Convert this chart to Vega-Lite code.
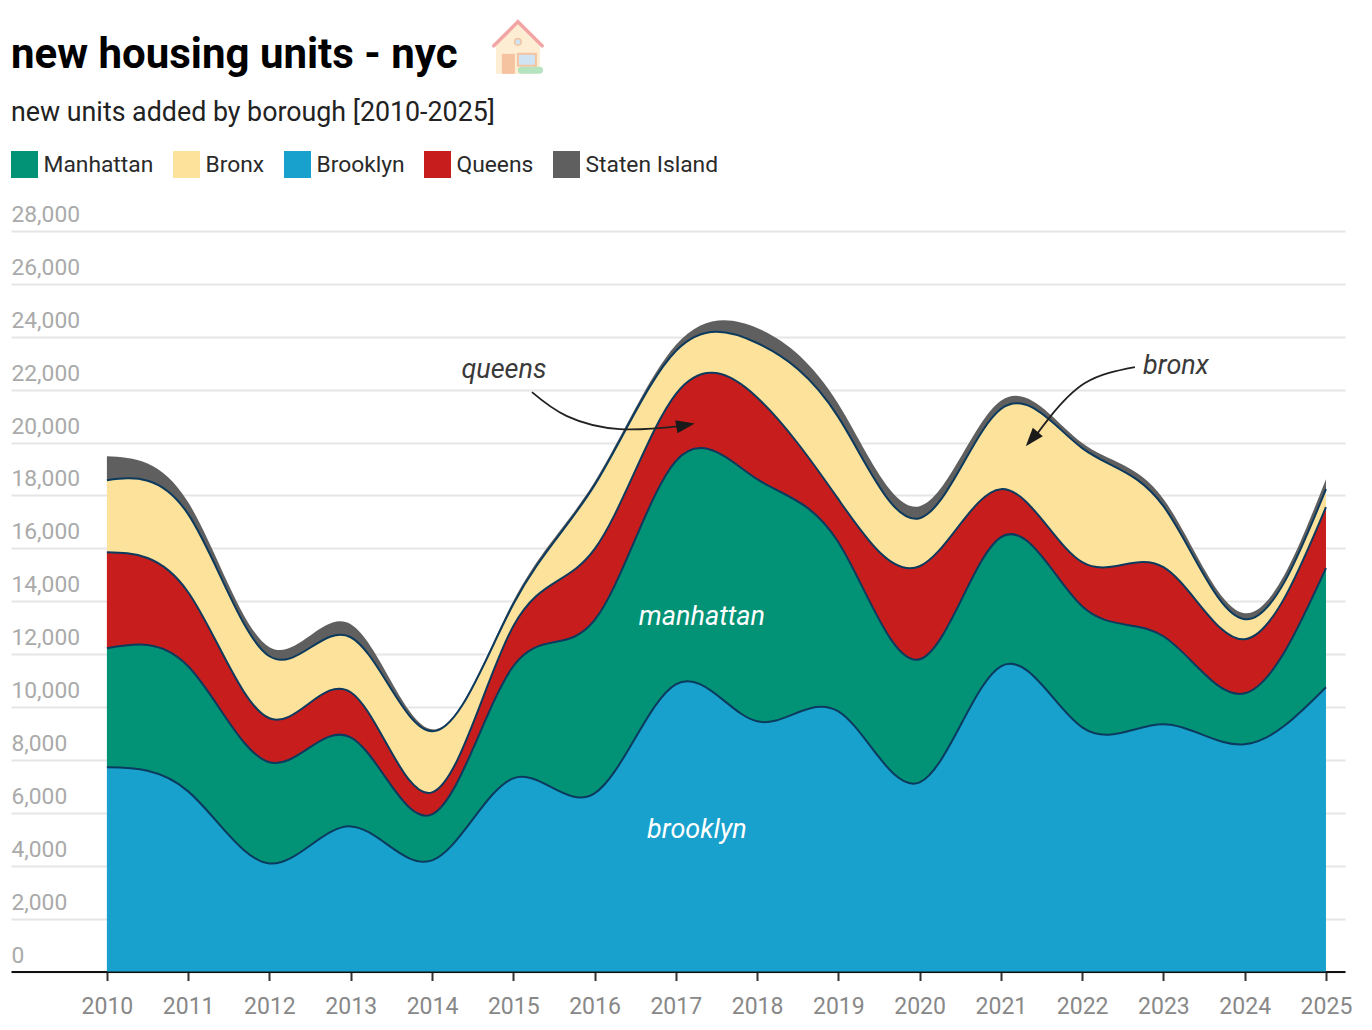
{
"$schema":"https://vega.github.io/schema/vega-lite/v6.json",
"autosize":"none","width":1334,"height":740.5,
"padding":{"left":11,"top":231,"right":27,"bottom":58},
"background":"white",
"config":{"font":"Roboto","view":{"stroke":null}},
"title":{"text":"new housing units - nyc","subtitle":"new units added by borough [2010-2025]","anchor":"start","frame":"group","font":"Roboto","fontSize":42,"fontWeight":700,"color":"#000000","subtitleFont":"Roboto","subtitleFontSize":26.8,"subtitleColor":"#222222","subtitlePadding":23,"offset":-113},
"datasets":{"units":[
{"year":2010,"Brooklyn":7719,"Manhattan":4503,"Queens":3633,"Bronx":2724,"Staten Island":908},
{"year":2011,"Brooklyn":6811,"Manhattan":4730,"Queens":2800,"Bronx":2952,"Staten Island":450},
{"year":2012,"Brooklyn":4087,"Manhattan":3822,"Queens":1665,"Bronx":2346,"Staten Island":341},
{"year":2013,"Brooklyn":5487,"Manhattan":3368,"Queens":1703,"Bronx":2081,"Staten Island":492},
{"year":2014,"Brooklyn":4200,"Manhattan":1741,"Queens":832,"Bronx":2308,"Staten Island":76},
{"year":2015,"Brooklyn":7303,"Manhattan":4238,"Queens":1514,"Bronx":832,"Staten Island":114},
{"year":2016,"Brooklyn":6736,"Manhattan":6546,"Queens":2687,"Bronx":2422,"Staten Island":114},
{"year":2017,"Brooklyn":10860,"Manhattan":8439,"Queens":2536,"Bronx":1626,"Staten Island":227},
{"year":2018,"Brooklyn":9460,"Manhattan":9157,"Queens":3091,"Bronx":2056,"Staten Island":570},
{"year":2019,"Brooklyn":9838,"Manhattan":6395,"Queens":1627,"Bronx":3103,"Staten Island":500},
{"year":2020,"Brooklyn":7152,"Manhattan":4654,"Queens":3519,"Bronx":1816,"Staten Island":454},
{"year":2021,"Brooklyn":11541,"Manhattan":4882,"Queens":1816,"Bronx":3028,"Staten Island":315},
{"year":2022,"Brooklyn":9233,"Manhattan":4578,"Queens":1665,"Bronx":4314,"Staten Island":190},
{"year":2023,"Brooklyn":9346,"Manhattan":3330,"Queens":2611,"Bronx":2308,"Staten Island":270},
{"year":2024,"Brooklyn":8590,"Manhattan":1930,"Queens":2043,"Bronx":757,"Staten Island":227},
{"year":2025,"Brooklyn":10747,"Manhattan":4503,"Queens":2308,"Bronx":681,"Staten Island":378}
]},
"layer":[
{"data":{"name":"units"},
 "transform":[{"fold":["Brooklyn","Manhattan","Queens","Bronx","Staten Island"],"as":["borough","units"]},{"calculate":"indexof(['Brooklyn','Manhattan','Queens','Bronx','Staten Island'],datum.borough)","as":"rank"}],
 "mark":{"type":"area","interpolate":"natural"},
 "encoding":{
  "x":{"field":"year","type":"quantitative","scale":{"domain":[2008.82,2025.234],"nice":false,"zero":false},
   "axis":{"title":null,"values":[2010,2011,2012,2013,2014,2015,2016,2017,2018,2019,2020,2021,2022,2023,2024,2025],"format":"d","grid":false,"domainColor":"#111111","domainWidth":2,"tickColor":"#333333","tickWidth":2,"tickSize":9,"labelFontSize":23,"labelColor":"#888888","labelPadding":15,"labelFlush":false,"labelOverlap":false}},
  "y":{"field":"units","type":"quantitative","stack":"zero","scale":{"domain":[0,28000],"nice":false,"zero":true},
   "axis":{"title":null,"values":[0,2000,4000,6000,8000,10000,12000,14000,16000,18000,20000,22000,24000,26000,28000],"format":",d","domain":false,"ticks":false,"tickSize":0,"grid":true,"gridColor":"#e6e6e6","gridWidth":2,"labelAlign":"left","labelBaseline":"alphabetic","labelPadding":0,"labelOffset":-9.5,"labelFontSize":22.8,"labelColor":"#aaaaaa","labelOverlap":false}},
  "color":{"field":"borough","type":"nominal","scale":{"domain":["Manhattan","Bronx","Brooklyn","Queens","Staten Island"],"range":["#029275","#fde29b","#18a1cd","#c71e1d","#5f5f5f"]},
   "legend":{"orient":"none","legendX":0,"legendY":-80,"direction":"horizontal","columns":5,"title":null,"symbolType":"square","symbolSize":729,"symbolStrokeWidth":0,"symbolOpacity":1,"labelFontSize":22.8,"labelColor":"#2a2a2a","labelFont":"Roboto","labelOffset":5.5,"columnPadding":19}},
  "order":{"field":"rank","type":"quantitative"}}},
{"data":{"name":"units"},
 "transform":[{"fold":["Brooklyn","Manhattan","Queens","Bronx","Staten Island"],"as":["borough","units"]},{"calculate":"indexof(['Brooklyn','Manhattan','Queens','Bronx','Staten Island'],datum.borough)","as":"rank"},{"filter":"datum.borough!=='Staten Island'"}],
 "mark":{"type":"line","interpolate":"natural","stroke":"#0b3a5e","strokeWidth":2},
 "encoding":{
  "x":{"field":"year","type":"quantitative"},
  "y":{"field":"units","type":"quantitative","stack":"zero"},
  "detail":{"field":"borough"},
  "order":{"field":"rank","type":"quantitative"}}},
{"data":{"values":[{"x":2015.23,"y":21909},{"x":2015.66,"y":21001},{"x":2016.312,"y":20509},{"x":2017.05,"y":20623}]},
 "mark":{"type":"line","interpolate":"natural","stroke":"#222222","strokeWidth":1.8},
 "encoding":{"x":{"field":"x","type":"quantitative"},"y":{"field":"y","type":"quantitative"}}},
{"data":{"values":[{"x":2021.443,"y":20320},{"x":2021.603,"y":20963},{"x":2022.034,"y":22250},{"x":2022.649,"y":22855}]},
 "mark":{"type":"line","interpolate":"natural","stroke":"#222222","strokeWidth":1.8},
 "encoding":{"x":{"field":"x","type":"quantitative"},"y":{"field":"y","type":"quantitative"}}},
{"data":{"values":[{"x":2017.12,"y":20661,"a":80},{"x":2021.38,"y":20130,"a":220}]},
 "mark":{"type":"point","shape":"M0,-1L0.7,1L-0.7,1Z","filled":true,"color":"#1a1a1a","opacity":1,"size":350},
 "encoding":{"x":{"field":"x","type":"quantitative"},"y":{"field":"y","type":"quantitative"},"angle":{"field":"a","type":"quantitative","scale":null}}},
{"data":{"values":[{"x":2014.885,"y":22742,"t":"queens"},{"x":2023.154,"y":22893,"t":"bronx"}]},
 "mark":{"type":"text","font":"Roboto","fontStyle":"italic","fontWeight":400,"fontSize":27,"color":"#3a3a3a","align":"center","baseline":"middle"},
 "encoding":{"x":{"field":"x","type":"quantitative"},"y":{"field":"y","type":"quantitative"},"text":{"field":"t"}}},
{"data":{"values":[{"x":2017.321,"y":13396,"t":"manhattan"},{"x":2017.26,"y":5336,"t":"brooklyn"}]},
 "mark":{"type":"text","font":"Roboto","fontStyle":"italic","fontWeight":400,"fontSize":27,"color":"#ffffff","align":"center","baseline":"middle"},
 "encoding":{"x":{"field":"x","type":"quantitative"},"y":{"field":"y","type":"quantitative"},"text":{"field":"t"}}},
{"data":{"values":[{"x":2014.787,"y":35115,"y2":33942},{"x":2015.057,"y":35910,"y2":33942},{"x":2015.328,"y":35115,"y2":33942}]},
 "mark":{"type":"area","color":"#fdeed3"},
 "encoding":{"x":{"field":"x","type":"quantitative"},"y":{"field":"y","type":"quantitative"},"y2":{"field":"y2"}}},
{"data":{"values":[{"x":2014.760,"y":35002},{"x":2015.057,"y":35910},{"x":2015.355,"y":35002}]},
 "mark":{"type":"line","stroke":"#f2a5a5","strokeWidth":3.5,"strokeCap":"round"},
 "encoding":{"x":{"field":"x","type":"quantitative"},"y":{"field":"y","type":"quantitative"}}},
{"data":{"values":[{"x":2014.860,"x2":2015.020,"y":34699,"y2":33942}]},
 "mark":{"type":"rect","color":"#f5c3a0"},
 "encoding":{"x":{"field":"x","type":"quantitative"},"x2":{"field":"x2"},"y":{"field":"y","type":"quantitative"},"y2":{"field":"y2"}}},
{"data":{"values":[{"x":2015.057,"x2":2015.279,"y":34699,"y2":34245}]},
 "mark":{"type":"rect","fill":"#cfe3f2","stroke":"#f5c3a0","strokeWidth":2},
 "encoding":{"x":{"field":"x","type":"quantitative"},"x2":{"field":"x2"},"y":{"field":"y","type":"quantitative"},"y2":{"field":"y2"}}},
{"data":{"values":[{"x":2015.057,"x2":2015.365,"y":34207,"y2":33942}]},
 "mark":{"type":"rect","color":"#b5e3c0","cornerRadius":3},
 "encoding":{"x":{"field":"x","type":"quantitative"},"x2":{"field":"x2"},"y":{"field":"y","type":"quantitative"},"y2":{"field":"y2"}}},
{"data":{"values":[{"x":2015.057,"y":35153}]},
 "mark":{"type":"point","shape":"circle","filled":true,"fill":"#cfe3f2","stroke":"#f5c3a0","strokeWidth":1.5,"opacity":1,"size":45},
 "encoding":{"x":{"field":"x","type":"quantitative"},"y":{"field":"y","type":"quantitative"}}}
]
}
